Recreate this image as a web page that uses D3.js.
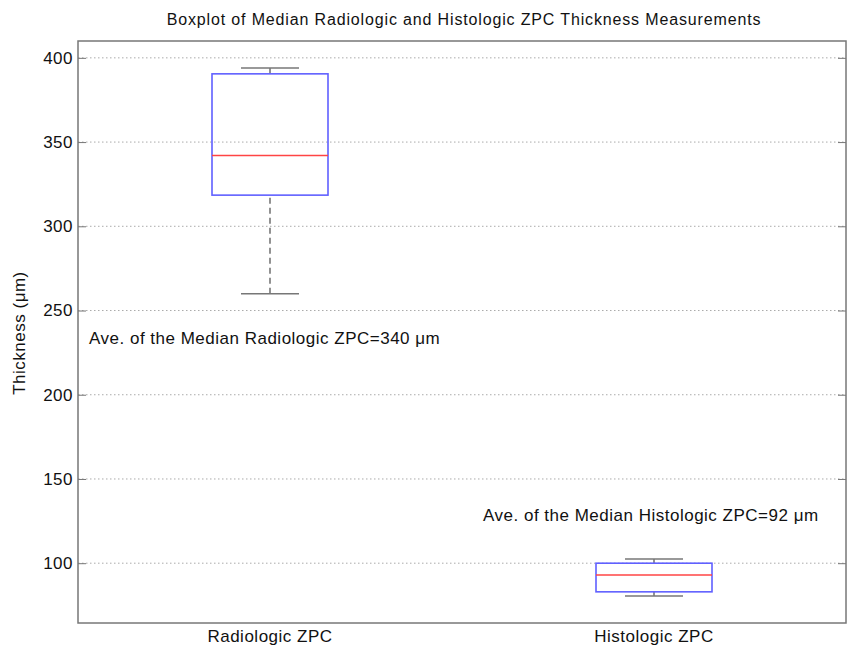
<!DOCTYPE html>
<html>
<head>
<meta charset="utf-8">
<script src="https://cdn.jsdelivr.net/npm/d3@7"></script>
<style>
  body { margin: 0; background: #fff; }
  text { font-family: "Liberation Sans", Arial, sans-serif; fill: #111; letter-spacing: 0.5px; }
</style>
</head>
<body>
<div class="chart"></div>
<script>
// values
const groups = ["Radiologic ZPC", "Histologic ZPC"];
const lowWhisker = [260, 80.5];
const q1 = [318.5, 83];
const median = [342, 93];
const q3 = [390.5, 100];
const highWhisker = [394, 102.5];
const yTicks = [100, 150, 200, 250, 300, 350, 400];
const notes = ["Ave. of the Median Radiologic ZPC=340 \u03bcm", "Ave. of the Median Histologic ZPC=92 \u03bcm"];
const noteY = [233.5, 128.5];

const margin = {top: 41, right: 3, bottom: 24, left: 78};
const W = 849, H = 647;
const width = W - margin.left - margin.right;
const height = H - margin.top - margin.bottom;

const svg = d3.select('.chart').append('svg')
    .attr("width", W)
    .attr("height", H);

svg.append("text")
    .attr("x", 464)
    .attr("y", 25)
    .attr("text-anchor", "middle")
    .attr("font-size", "16px")
    .style("letter-spacing", "0.85px")
    .text("Boxplot of Median Radiologic and Histologic ZPC Thickness Measurements");

const g = svg.append("g")
    .attr("transform", `translate(${margin.left},${margin.top})`);

const xScale = d3.scalePoint()
    .domain(groups)
    .range([0, width])
    .padding(0.5);

const yScale = d3.scaleLinear()
    .domain([64.5, 410])
    .range([height, 0]);

// grid
g.selectAll(".grid")
    .data(yTicks)
    .enter()
    .append("line")
    .attr("x1", 0).attr("x2", width)
    .attr("y1", d => yScale(d)).attr("y2", d => yScale(d))
    .attr("stroke", "#aaa")
    .attr("stroke-width", 1)
    .attr("stroke-dasharray", "1.5,2.5");

const yAxis = d3.axisLeft(yScale).tickValues(yTicks).tickSizeInner(-8).tickSizeOuter(0).tickPadding(5);
const yAxisR = d3.axisRight(yScale).tickValues(yTicks).tickSizeInner(-8).tickSizeOuter(0).tickFormat("");

g.append("g").attr("class", "y-axis").call(yAxis);
g.append("g").attr("transform", `translate(${width},0)`).call(yAxisR);
g.selectAll(".domain").remove();
g.selectAll(".tick line").attr("stroke", "#777");
g.selectAll(".y-axis text").attr("font-size", "17px").attr("font-family", "Liberation Sans, Arial, sans-serif");

// frame
g.append("rect")
    .attr("x", 0).attr("y", 0)
    .attr("width", width).attr("height", height)
    .attr("fill", "none")
    .attr("stroke", "#777")
    .attr("stroke-width", 1.5);

// x labels
g.selectAll(".xlab")
    .data(groups)
    .enter()
    .append("text")
    .attr("x", d => xScale(d))
    .attr("y", height + 19)
    .attr("text-anchor", "middle")
    .attr("font-size", "17px")
    .text(d => d);

svg.append("text")
    .attr("transform", `translate(25,333) rotate(-90)`)
    .attr("text-anchor", "middle")
    .attr("font-size", "17px")
    .text("Thickness (\u03bcm)");

const boxW = 116, capW = 58;
const boxes = g.selectAll(".box")
    .data(groups)
    .enter()
    .append("g");

// whiskers
boxes.append("line")
    .attr("x1", d => xScale(d)).attr("x2", d => xScale(d))
    .attr("y1", (d, i) => yScale(lowWhisker[i])).attr("y2", (d, i) => yScale(q1[i]))
    .attr("stroke", "#777").attr("stroke-width", 1.6).attr("stroke-dasharray", "6,4");
boxes.append("line")
    .attr("x1", d => xScale(d)).attr("x2", d => xScale(d))
    .attr("y1", (d, i) => yScale(q3[i])).attr("y2", (d, i) => yScale(highWhisker[i]))
    .attr("stroke", "#777").attr("stroke-width", 1.6).attr("stroke-dasharray", "6,4");
boxes.append("line")
    .attr("x1", d => xScale(d) - capW / 2).attr("x2", d => xScale(d) + capW / 2)
    .attr("y1", (d, i) => yScale(lowWhisker[i])).attr("y2", (d, i) => yScale(lowWhisker[i]))
    .attr("stroke", "#777").attr("stroke-width", 1.6);
boxes.append("line")
    .attr("x1", d => xScale(d) - capW / 2).attr("x2", d => xScale(d) + capW / 2)
    .attr("y1", (d, i) => yScale(highWhisker[i])).attr("y2", (d, i) => yScale(highWhisker[i]))
    .attr("stroke", "#777").attr("stroke-width", 1.6);

boxes.append("rect")
    .attr("x", d => xScale(d) - boxW / 2)
    .attr("y", (d, i) => yScale(q3[i]))
    .attr("width", boxW)
    .attr("height", (d, i) => yScale(q1[i]) - yScale(q3[i]))
    .attr("fill", "none")
    .attr("stroke", "#6060ff")
    .attr("stroke-width", 1.6);

boxes.append("line")
    .attr("x1", d => xScale(d) - boxW / 2).attr("x2", d => xScale(d) + boxW / 2)
    .attr("y1", (d, i) => yScale(median[i])).attr("y2", (d, i) => yScale(median[i]))
    .attr("stroke", "#ff4444").attr("stroke-width", 1.6);

// annotations
const noteX = [11, 405];
g.selectAll(".note")
    .data(notes)
    .enter()
    .append("text")
    .attr("x", (d, i) => noteX[i])
    .attr("y", (d, i) => yScale(noteY[i]))
    .attr("dy", "0.35em")
    .attr("font-size", "17px")
    .text(d => d);
</script>
</body>
</html>
